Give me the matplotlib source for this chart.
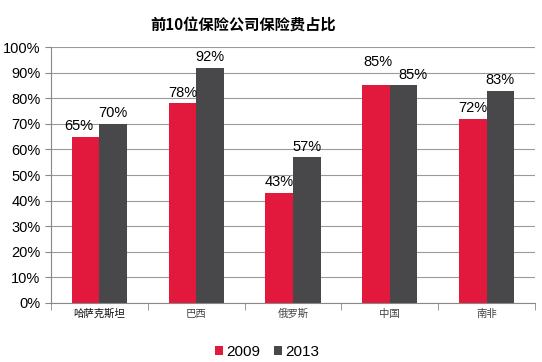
import matplotlib
matplotlib.use('Agg')
import matplotlib.pyplot as plt
import numpy as np
from matplotlib.ticker import MultipleLocator, FuncFormatter

plt.rcParams['font.family'] = ['Noto Sans CJK SC', 'DejaVu Sans']

categories = ['哈萨克斯坦', '巴西', '俄罗斯', '中国', '南非']
years = ['2009', '2013']
values_2009 = [65, 78, 43, 85, 72]
values_2013 = [70, 92, 57, 85, 83]

red = '#E2183C'
gray = '#48484B'

# hand nudges of the value labels (points), as in the original chart
nudge_2009 = {0: (-5, 0), 3: (1.5, 9)}
nudge_2013 = {3: (7, 0)}

fig = plt.figure(figsize=(5.42, 3.62), dpi=100)
ax = fig.add_axes([0.094, 0.163, 0.893, 0.707])

x = np.arange(len(categories))
w = 0.285
b1 = ax.bar(x - w / 2, values_2009, w, color=red, label=years[0], zorder=3)
b2 = ax.bar(x + w / 2, values_2013, w, color=gray, label=years[1], zorder=3)

for bars, vals, nudge in ((b1, values_2009, nudge_2009), (b2, values_2013, nudge_2013)):
    for i, (rect, v) in enumerate(zip(bars, vals)):
        dx, dy = nudge.get(i, (0, 0))
        ax.annotate('{}%'.format(v), (rect.get_x() + rect.get_width() / 2, v),
                    xytext=(dx, 2.5 + dy), textcoords='offset points',
                    ha='center', va='bottom', fontsize=10.5,
                    family='Liberation Sans', zorder=4)

ax.set_xlim(-0.5, len(categories) - 0.5)
ax.set_ylim(0, 100)
ax.yaxis.set_major_locator(MultipleLocator(10))
ax.yaxis.set_major_formatter(FuncFormatter(lambda v, p: '{:.0f}%'.format(v)))
for lbl in ax.get_yticklabels():
    lbl.set_family('Liberation Sans')
ax.tick_params(axis='y', labelsize=10.5, length=4, color='#888888')
ax.grid(axis='y', color='#9a9a9a', linewidth=0.8, zorder=0)

ax.set_xticks(x)
ax.set_xticklabels(categories, fontsize=7.5)
for i, lbl in enumerate(ax.get_xticklabels()):
    lbl.set_color('#111111' if i == 0 else '#444444')
ax.tick_params(axis='x', length=0, pad=4)
ax.set_xticks(np.arange(-0.5, len(categories), 1), minor=True)
ax.tick_params(axis='x', which='minor', length=5, color='#888888')

for s in ('top', 'right'):
    ax.spines[s].set_visible(False)
for s in ('left', 'bottom'):
    ax.spines[s].set_color('#888888')
    ax.spines[s].set_zorder(5)

fig.text(0.449, 0.93, '前10位保险公司保险费占比', ha='center', va='center',
         fontsize=11, fontweight='bold')

leg = fig.legend(loc='center', bbox_to_anchor=(0.493, 0.028), ncol=2, frameon=False,
                 prop={'family': 'Liberation Sans', 'size': 11}, handlelength=0.55,
                 handleheight=0.55, handletextpad=0.2, columnspacing=0.9)

fig.savefig('out.png', dpi=100)
